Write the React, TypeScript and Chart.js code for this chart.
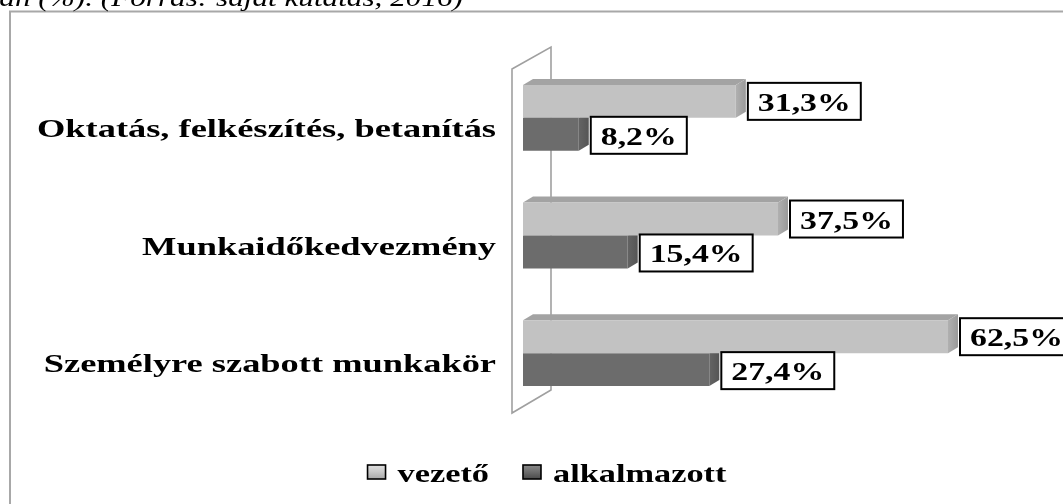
import React, { useEffect, useRef } from "react";
import { Chart, registerables } from "chart.js";

Chart.register(...registerables);

// ---- data ----
const categories = [
  "Oktatás, felkészítés, betanítás",
  "Munkaidőkedvezmény",
  "Személyre szabott munkakör",
];
const seriesNames = ["vezető", "alkalmazott"];
const vezetoValues = [31.3, 37.5, 62.5];
const alkalmazottValues = [8.2, 15.4, 27.4];
const axisMin = 0;
const axisMax = 70;
const captionText = "án (%). (Forrás: saját kutatás, 2016)";

// ---- styles ----
const SERIF = '"Liberation Serif", "Times New Roman", serif';
const lightFront = ["#d4d4d4", "#c2c2c2", "#b4b4b4"];
const darkFront = ["#7a7a7a", "#6c6c6c", "#5f5f5f"];
const lightTop = "#a3a3a3";
const lightSide = "#9a9a9a";
const darkSide = "#555555";
const DX = 10;
const DY = 6;

const fmt = (v: number) => v.toFixed(1).replace(".", ",") + "%";

function stretchedText(
  ctx: CanvasRenderingContext2D,
  text: string,
  x: number,
  y: number,
  size: number,
  sx: number,
  align: "left" | "right" | "center",
  font = "bold"
) {
  ctx.save();
  ctx.font = `${font} ${size}px ${SERIF}`;
  ctx.textBaseline = "alphabetic";
  ctx.textAlign = "left";
  const w = ctx.measureText(text).width * sx;
  const x0 = align === "right" ? x - w : align === "center" ? x - w / 2 : x;
  ctx.translate(x0, y);
  ctx.scale(sx, 1);
  ctx.fillStyle = "#000";
  ctx.fillText(text, 0, 0);
  ctx.restore();
  return w;
}

function textWidth(ctx: CanvasRenderingContext2D, text: string, size: number, sx: number, font = "bold") {
  ctx.save();
  ctx.font = `${font} ${size}px ${SERIF}`;
  const w = ctx.measureText(text).width * sx;
  ctx.restore();
  return w;
}

function vGrad(ctx: CanvasRenderingContext2D, top: number, bottom: number, stops: string[]) {
  const g = ctx.createLinearGradient(0, top, 0, bottom);
  g.addColorStop(0, stops[0]);
  g.addColorStop(0.35, stops[1]);
  g.addColorStop(1, stops[2]);
  return g;
}

const decorPlugin = {
  id: "decor",
  beforeDraw(chart: any) {
    const ctx: CanvasRenderingContext2D = chart.ctx;
    ctx.save();
    ctx.fillStyle = "#ffffff";
    ctx.fillRect(0, 0, chart.width, chart.height);
    // outer frame (cropped on right / bottom)
    ctx.strokeStyle = "#a8a8a8";
    ctx.lineWidth = 2;
    ctx.strokeRect(10, 11.5, chart.width + 200, chart.height + 200);
    ctx.restore();
    // caption cut off at top
    stretchedText(ctx, captionText, 463, 6, 26, 1.2, "right", "italic");
  },
  beforeDatasetsDraw(chart: any) {
    const ctx: CanvasRenderingContext2D = chart.ctx;
    const a = chart.chartArea;
    // 3D wall
    const fx = a.left - 11;
    const bx = a.left + 28;
    ctx.save();
    ctx.strokeStyle = "#a0a0a0";
    ctx.lineWidth = 1.6;
    ctx.beginPath();
    ctx.moveTo(fx, a.top + 10);
    ctx.lineTo(bx, a.top - 12);
    ctx.lineTo(bx, a.bottom - 22);
    ctx.lineTo(fx, a.bottom + 1);
    ctx.closePath();
    ctx.fillStyle = "#ffffff";
    ctx.fill();
    ctx.stroke();
    ctx.restore();

    // 3D faces of bars
    chart.data.datasets.forEach((ds: any, di: number) => {
      const meta = chart.getDatasetMeta(di);
      meta.data.forEach((el: any) => {
        const p = el.getProps(["x", "y", "base", "height"], true);
        const top = p.y - p.height / 2;
        const bottom = p.y + p.height / 2;
        ctx.save();
        // top face
        ctx.beginPath();
        ctx.moveTo(p.base, top);
        ctx.lineTo(p.x, top);
        ctx.lineTo(p.x + DX, top - DY);
        ctx.lineTo(p.base + DX, top - DY);
        ctx.closePath();
        ctx.fillStyle = di === 0 ? lightTop : darkSide;
        ctx.fill();
        // side cap
        ctx.beginPath();
        ctx.moveTo(p.x, top);
        ctx.lineTo(p.x + DX, top - DY);
        ctx.lineTo(p.x + DX, bottom - DY);
        ctx.lineTo(p.x, bottom);
        ctx.closePath();
        const g = ctx.createLinearGradient(p.x, 0, p.x + DX, 0);
        if (di === 0) {
          g.addColorStop(0, "#b0b0b0");
          g.addColorStop(1, lightSide);
        } else {
          g.addColorStop(0, "#646464");
          g.addColorStop(1, darkSide);
        }
        ctx.fillStyle = g;
        ctx.fill();
        ctx.restore();
      });
    });
  },
  afterDatasetsDraw(chart: any) {
    const ctx: CanvasRenderingContext2D = chart.ctx;
    const a = chart.chartArea;
    const yScale = chart.scales.y;

    // data labels (boxed)
    chart.data.datasets.forEach((ds: any, di: number) => {
      const meta = chart.getDatasetMeta(di);
      meta.data.forEach((el: any, i: number) => {
        const p = el.getProps(["x", "y", "height"], true);
        const label = fmt(ds.data[i]);
        const tw = textWidth(ctx, label, 26, 1.3);
        const bx = p.x + DX + 2;
        const bw = tw + 20;
        const bh = 37;
        const by = p.y - bh / 2 + (di === 0 ? 0 : 1);
        ctx.save();
        ctx.fillStyle = "#ffffff";
        ctx.fillRect(bx, by, bw, bh);
        ctx.strokeStyle = "#000";
        ctx.lineWidth = 2;
        ctx.strokeRect(bx, by, bw, bh);
        ctx.restore();
        stretchedText(ctx, label, bx + 10, by + 28, 26, 1.3, "left");
      });
    });

    // category labels
    categories.forEach((c, i) => {
      const y = yScale.getPixelForValue(i);
      stretchedText(ctx, c, a.left - 27, y + 19, 26, 1.4, "right");
    });

    // legend
    const legendCenter = 547;
    const iconW = 18;
    const iconH = 14;
    const gapIcon = 12;
    const gapItems = 34;
    const widths = seriesNames.map((n) => textWidth(ctx, n, 26, 1.32));
    const total =
      widths.reduce((s, w) => s + w + iconW + gapIcon, 0) + gapItems * (seriesNames.length - 1);
    let x = legendCenter - total / 2;
    const baseline = 482;
    seriesNames.forEach((n, i) => {
      ctx.save();
      const iy = 465;
      const g = ctx.createLinearGradient(0, iy, 0, iy + iconH);
      const stops = i === 0 ? ["#e0e0e0", "#c8c8c8", "#a8a8a8"] : ["#8a8a8a", "#6c6c6c", "#4a4a4a"];
      g.addColorStop(0, stops[0]);
      g.addColorStop(0.5, stops[1]);
      g.addColorStop(1, stops[2]);
      ctx.fillStyle = g;
      ctx.fillRect(x, iy, iconW, iconH);
      ctx.strokeStyle = "#000";
      ctx.lineWidth = 1.6;
      ctx.strokeRect(x, iy, iconW, iconH);
      ctx.restore();
      x += iconW + gapIcon;
      stretchedText(ctx, n, x, baseline, 26, 1.32, "left");
      x += widths[i] + gapItems;
    });
  },
};

export default function App() {
  const canvasRef = useRef<HTMLCanvasElement | null>(null);

  useEffect(() => {
    const canvas = canvasRef.current;
    if (!canvas) return;
    const ctx = canvas.getContext("2d")!;
    const chart = new Chart(ctx, {
      type: "bar",
      data: {
        labels: categories,
        datasets: [
          {
            label: seriesNames[0],
            data: vezetoValues,
            backgroundColor: (c: any) => {
              const ch = c.chart;
              const el = ch.getDatasetMeta(0).data[c.dataIndex];
              if (!el || !ch.chartArea) return lightFront[1];
              const p = el.getProps(["y", "height"], true);
              if (!isFinite(p.y) || !isFinite(p.height)) return lightFront[1];
              return vGrad(ch.ctx, p.y - p.height / 2, p.y + p.height / 2, lightFront);
            },
            borderWidth: 0,
          },
          {
            label: seriesNames[1],
            data: alkalmazottValues,
            backgroundColor: (c: any) => {
              const ch = c.chart;
              const el = ch.getDatasetMeta(1).data[c.dataIndex];
              if (!el || !ch.chartArea) return darkFront[1];
              const p = el.getProps(["y", "height"], true);
              if (!isFinite(p.y) || !isFinite(p.height)) return darkFront[1];
              return vGrad(ch.ctx, p.y - p.height / 2, p.y + p.height / 2, darkFront);
            },
            borderWidth: 0,
          },
        ],
      },
      options: {
        indexAxis: "y",
        responsive: false,
        animation: false,
        devicePixelRatio: 1,
        layout: { padding: { left: 523, right: 64, top: 59, bottom: 92 } },
        datasets: { bar: { categoryPercentage: 0.56, barPercentage: 1.0 } },
        scales: {
          x: { display: false, min: axisMin, max: axisMax },
          y: { display: false },
        },
        plugins: {
          legend: { display: false },
          tooltip: { enabled: false },
          title: { display: false },
        },
      } as any,
      plugins: [decorPlugin],
    });
    return () => chart.destroy();
  }, []);

  return (
    <div
      style={{
        position: "absolute",
        left: 0,
        top: 0,
        width: 1063,
        height: 504,
        overflow: "hidden",
        background: "#fff",
      }}
    >
      <canvas ref={canvasRef} width={1063} height={504} style={{ display: "block" }} />
    </div>
  );
}
